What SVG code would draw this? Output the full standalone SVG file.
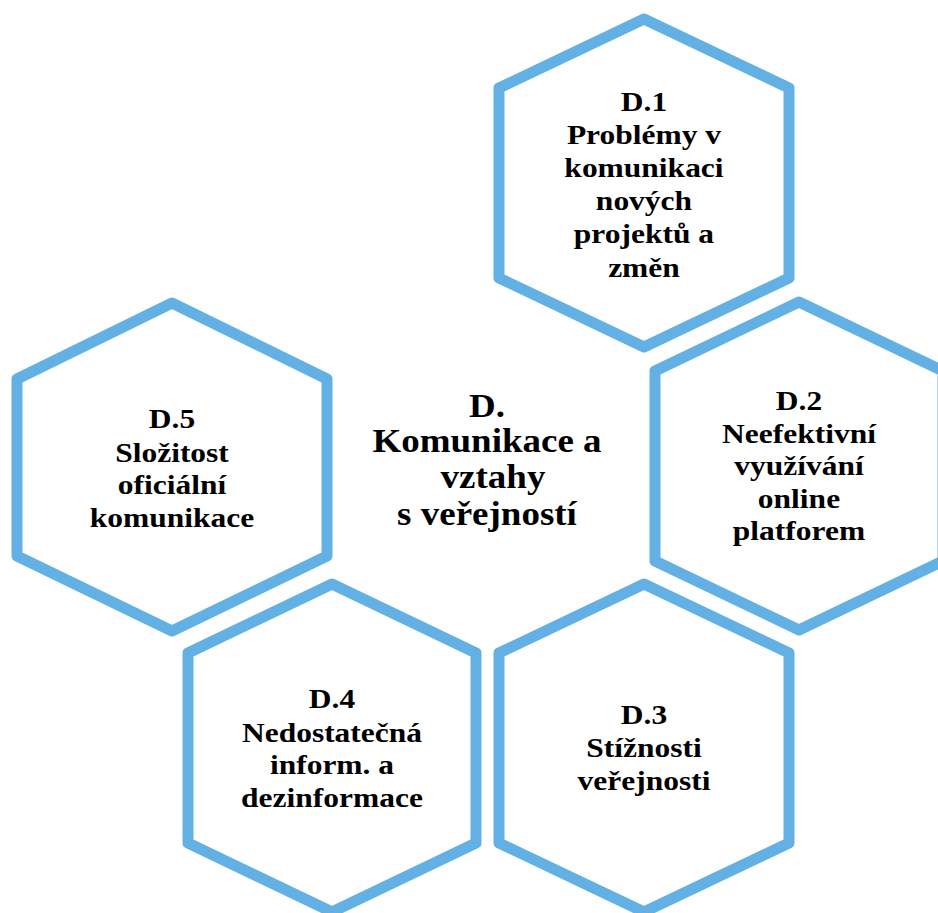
<svg xmlns="http://www.w3.org/2000/svg" width="938" height="913" viewBox="0 0 938 913">
<style>
.hex{fill:#ffffff;stroke:#63B1E4;stroke-width:11;stroke-linejoin:round}
.t{font-family:"Liberation Serif","Times New Roman",serif;font-weight:bold;font-size:31.5px;fill:#000;text-anchor:middle}
.c{font-size:37px}
</style>
<rect width="938" height="913" fill="#ffffff"/>
<g id="connectors"></g>
<g id="d1">
<polygon class="hex" points="644,19 789,88 789,278 644,347 499,278 499,88"/>
<text class="t" transform="scale(1,0.9)"><tspan x="644" y="123.3">D.1</tspan><tspan x="644" y="160">Problémy v</tspan><tspan x="644" y="196.7">komunikaci</tspan><tspan x="644" y="233.3">nových</tspan><tspan x="644" y="270">projektů a</tspan><tspan x="644" y="307.8">změn</tspan></text>
</g>
<g id="d2">
<polygon class="hex" points="799,302 943,371 943,561 799,630 655,561 655,371"/>
<text class="t" transform="scale(1,0.9)"><tspan x="799" y="455.6">D.2</tspan><tspan x="799" y="492.2">Neefektivní</tspan><tspan x="799" y="527.8">využívání</tspan><tspan x="799" y="564.4">online</tspan><tspan x="799" y="600">platforem</tspan></text>
</g>
<g id="d5">
<polygon class="hex" points="172,303 327,379 327,556 172,631 17,556 17,379"/>
<text class="t" transform="scale(1,0.9)"><tspan x="172" y="475.6">D.5</tspan><tspan x="172" y="513.3">Složitost</tspan><tspan x="172" y="548.9">oficiální</tspan><tspan x="172" y="585.6">komunikace</tspan></text>
</g>
<g id="d4">
<polygon class="hex" points="332,584 476,653 476,843 332,912 188,843 188,653"/>
<text class="t" transform="scale(1,0.9)"><tspan x="332" y="786.7">D.4</tspan><tspan x="332" y="824.4">Nedostatečná</tspan><tspan x="332" y="860">inform. a</tspan><tspan x="332" y="896.7">dezinformace</tspan></text>
</g>
<g id="d3">
<polygon class="hex" points="644,584 789,653 789,843 644,912 499,843 499,653"/>
<text class="t" transform="scale(1,0.9)"><tspan x="644" y="804.4">D.3</tspan><tspan x="644" y="841.1">Stížnosti</tspan><tspan x="644" y="877.8">veřejnosti</tspan></text>
</g>
<g id="center">
<text class="t c" transform="scale(1,0.9)"><tspan x="487" y="463.3">D.</tspan><tspan x="487" y="502.2">Komunikace a</tspan><tspan x="493" y="542.2">vztahy</tspan><tspan x="487" y="583.3">s veřejností</tspan></text>
</g>
</svg>
